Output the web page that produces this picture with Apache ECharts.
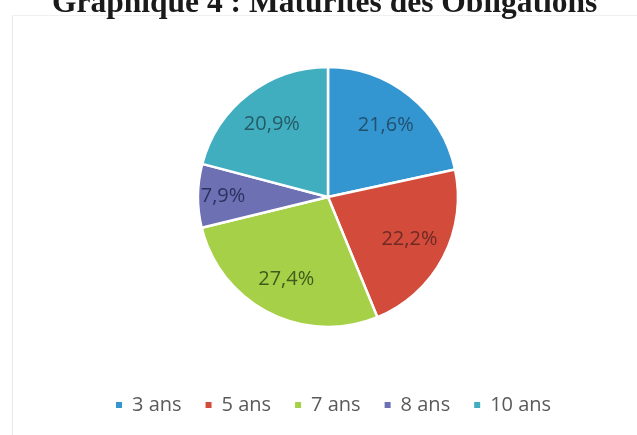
<!DOCTYPE html>
<html>
<head>
<meta charset="utf-8">
<script src="https://cdn.jsdelivr.net/npm/echarts@6/dist/echarts.min.js"></script>
<style>
  html, body { margin: 0; padding: 0; background: #ffffff; }
  #chart { width: 637px; height: 435px; }
</style>
</head>
<body>
<div id="chart"></div>
<script>
// Bond maturities, share of total (%)
const categories = ['3 ans', '5 ans', '7 ans', '8 ans', '10 ans'];
const shares = [21.6, 22.2, 27.4, 7.9, 20.9];

const sliceColors = ['#3396d1', '#d34b3b', '#a7d049', '#6d70b3', '#41aec0'];
const labelColors = ['#22506f', '#6e2a25', '#3f5a1b', '#2d3160', '#255a66'];

const fmt = v => v.toFixed(1).replace('.', ',') + '%';

const center = [328, 197];
const outerR = 130;

const chart = echarts.init(document.getElementById('chart'), null, { renderer: 'canvas' });

const sliceData = categories.map((name, i) => ({
  name,
  value: shares[i],
  itemStyle: { color: sliceColors[i] }
}));

// Label ring: same values, transparent, so labels sit further out than mid-radius
const labelData = categories.map((name, i) => ({
  name,
  value: shares[i],
  label: {
    color: labelColors[i],
    offset: name === '8 ans' ? [-13, 0] : [0, 0]
  }
}));

chart.setOption({
  backgroundColor: '#ffffff',
  animation: false,
  title: {
    text: 'Graphique 4 : Maturités des Obligations',
    left: 47,
    top: -17,
    textStyle: {
      fontFamily: 'Liberation Serif',
      fontWeight: 'bold',
      fontSize: 31.5,
      color: '#1a1a1a'
    }
  },
  graphic: [
    { type: 'line', shape: { x1: 12.5, y1: 15, x2: 12.5, y2: 435 }, style: { stroke: '#e6e8ea', lineWidth: 1 } },
    { type: 'line', shape: { x1: 12, y1: 15.5, x2: 637, y2: 15.5 }, style: { stroke: '#eef0f2', lineWidth: 1 } }
  ],
  legend: {
    data: categories,
    left: 109,
    top: 390,
    icon: 'rect',
    itemWidth: 8,
    itemHeight: 8,
    itemGap: 22,
    textStyle: {
      fontFamily: 'Open Sans',
      fontSize: 20,
      color: '#5a5a5a',
      padding: [0, 0, 0, 4]
    }
  },
  series: [
    {
      type: 'pie',
      center: center,
      radius: [0, outerR],
      startAngle: 90,
      clockwise: true,
      silent: true,
      label: { show: false },
      labelLine: { show: false },
      itemStyle: { borderColor: '#ffffff', borderWidth: 2.5 },
      data: sliceData
    },
    {
      type: 'pie',
      center: center,
      radius: [48, outerR],
      startAngle: 90,
      clockwise: true,
      silent: true,
      itemStyle: { color: 'rgba(0,0,0,0)', borderWidth: 0 },
      label: {
        show: true,
        position: 'inside',
        formatter: p => fmt(p.value),
        fontFamily: 'Open Sans',
        fontSize: 20
      },
      labelLine: { show: false },
      data: labelData
    }
  ]
});
</script>
</body>
</html>
